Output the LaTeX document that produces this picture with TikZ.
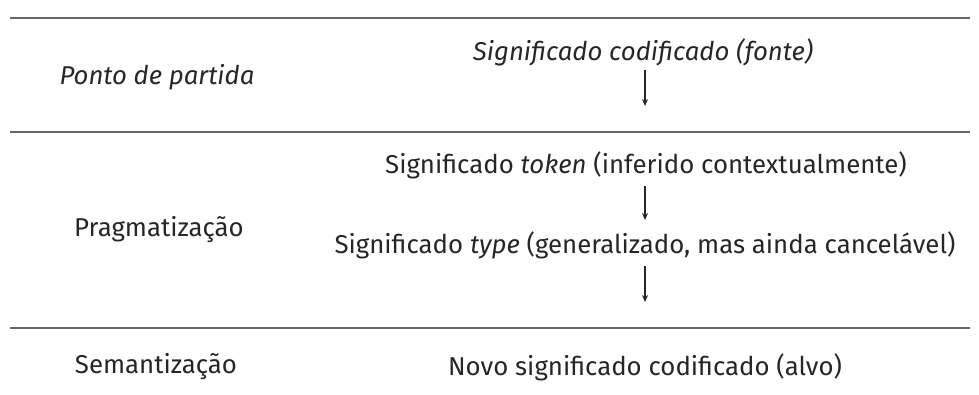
\documentclass[tikz,border=0pt]{standalone}
\usepackage{fontspec}
\setmainfont{Fira Sans}
\usetikzlibrary{arrows.meta}
\begin{document}
\begin{tikzpicture}[x=1pt,y=-1pt,
  rule/.style={draw=black!60,line width=2.5pt},
  lbl/.style={font=\fontsize{25.8}{30}\selectfont,text=black!85,inner sep=0pt,anchor=center},
  flow/.style={draw=black!85,line width=1.3pt,-{Stealth[length=7pt,width=6pt]}}]
\useasboundingbox (0,0) rectangle (979,394);
\draw[rule] (10,18) -- (970,18);
\draw[rule] (10,132) -- (970,132);
\draw[rule] (10,328) -- (970,328);
\node[lbl] (pp) at (157,77) {\itshape Ponto de partida};
\node[lbl] (pr) at (159,230) {Pragmatização};
\node[lbl] (se) at (156,367) {Semantização};
\node[lbl] (sc) at (643,52) {\itshape Significado codificado (fonte)};
\node[lbl] (st) at (646,165) {Significado \textit{token} (inferido contextualmente)};
\node[lbl] (sy) at (645,245) {Significado \textit{type} (generalizado, mas ainda cancelável)};
\node[lbl] (nv) at (645,367) {Novo significado codificado (alvo)};
\coordinate (a1) at (645,70);
\coordinate (b1) at (645,106);
\coordinate (a2) at (645,186);
\coordinate (b2) at (645,220);
\coordinate (a3) at (645,266);
\coordinate (b3) at (645,302);
\draw[flow] (a1) -- (b1);
\draw[flow] (a2) -- (b2);
\draw[flow] (a3) -- (b3);
\end{tikzpicture}
\end{document}
